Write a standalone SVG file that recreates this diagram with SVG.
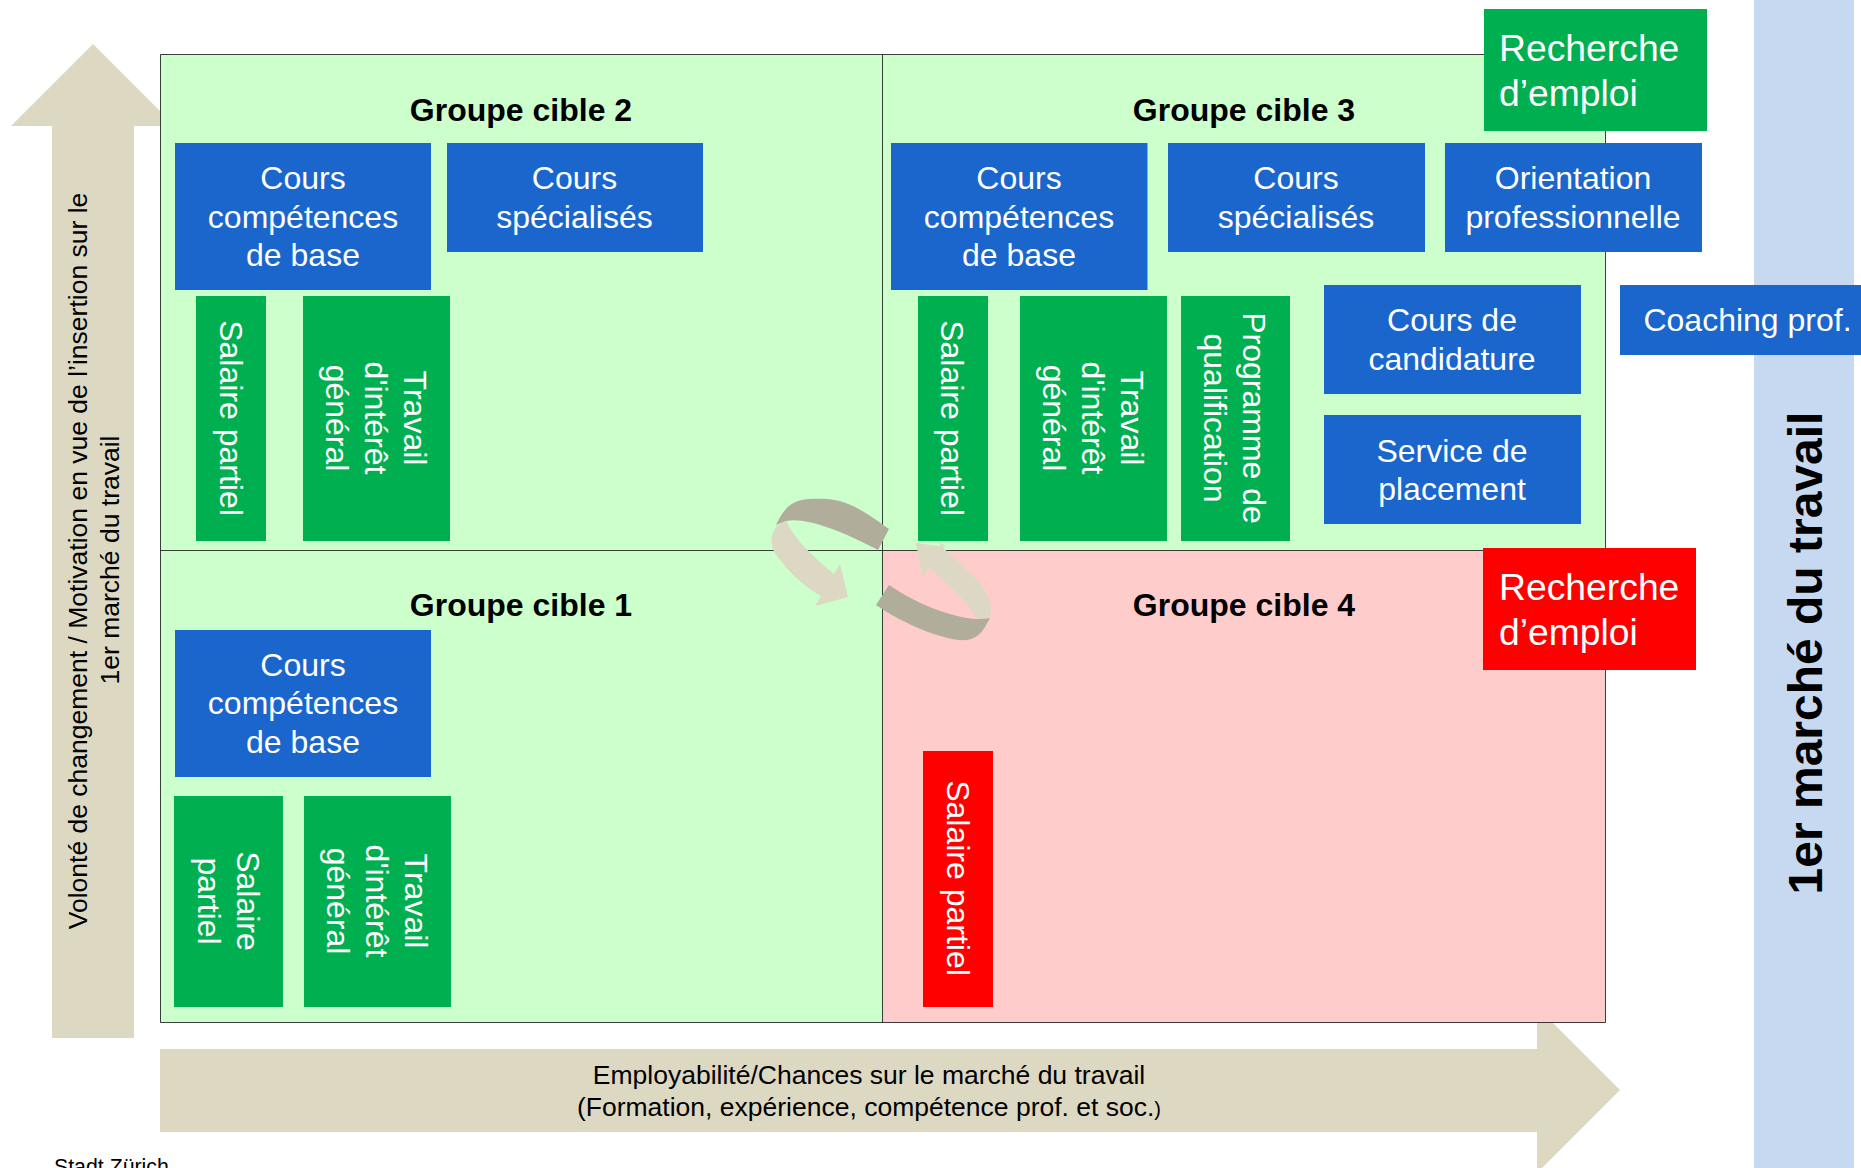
<svg xmlns="http://www.w3.org/2000/svg" width="1861" height="1168" viewBox="0 0 1861 1168">
<style>
text{font-family:"Liberation Sans",Arial,sans-serif}
.b{fill:#1a66cc}.g{fill:#00b050}.r{fill:#ff0000}.s{fill:#ddd8c2}
.t{fill:#fff;font-size:32px;text-anchor:middle}
.big{fill:#fff;font-size:37.300px}
.h{fill:#000;font-size:32px;font-weight:bold;text-anchor:middle}
.a{fill:#000;font-size:26.500px;text-anchor:middle}
.q{fill:none;stroke:#000;stroke-opacity:.75;stroke-width:1}
</style>
<rect width="1861" height="1168" fill="#fff"/>
<rect id="bar" x="1754" y="0" width="100" height="1168" fill="#c6d9f1"/>
<g id="axis-y">
<path class="s" d="M93 44L175 126H134V1038H52V126H11Z"/>
<text class="a" transform="translate(87,561) rotate(-90)">Volonté de changement / Motivation en vue de l’insertion sur le</text>
<text class="a" transform="translate(119,560) rotate(-90)">1er marché du travail</text>
</g>
<g id="axis-x">
<path class="s" d="M160 1049H1537V1007L1620 1090L1537 1173V1132H160Z"/>
<text class="a" x="869" y="1084">Employabilité/Chances sur le marché du travail</text>
<text class="a" x="869" y="1116">(Formation, expérience, compétence prof. et soc.<tspan font-size="20">)</tspan></text>
</g>
<g id="quadrants">
<rect x="160" y="54.500" width="723" height="496" fill="#ccffcc"/>
<rect x="883" y="54.500" width="722.500" height="496" fill="#ccffcc"/>
<rect x="160" y="550.500" width="723" height="472" fill="#ccffcc"/>
<rect x="883" y="550.500" width="722.500" height="472" fill="#ffcccc"/>
<path class="q" d="M160.500 54.500H1605.500V1022.500H160.500ZM882.500 54.500V1022.500M160.500 550.500H1605.500"/>
</g>
<g id="heads">
<text class="h" x="521" y="121">Groupe cible 2</text>
<text class="h" x="1244" y="121">Groupe cible 3</text>
<text class="h" x="521" y="616">Groupe cible 1</text>
<text class="h" x="1244" y="616">Groupe cible 4</text>
</g>
<g id="n-ccb2"><rect class="b" x="175" y="143" width="256" height="147"/><text class="t"><tspan x="303" y="189">Cours</tspan><tspan x="303" y="228">compétences</tspan><tspan x="303" y="266">de base</tspan></text></g>
<g id="n-spec2"><rect class="b" x="447" y="143" width="256" height="109"/><text class="t"><tspan x="574.500" y="189">Cours</tspan><tspan x="574.500" y="228">spécialisés</tspan></text></g>
<g id="n-ccb3"><rect class="b" x="891" y="143" width="256.500" height="147"/><text class="t"><tspan x="1019" y="189">Cours</tspan><tspan x="1019" y="228">compétences</tspan><tspan x="1019" y="266">de base</tspan></text></g>
<g id="n-spec3"><rect class="b" x="1168" y="143" width="257" height="109"/><text class="t"><tspan x="1296" y="189">Cours</tspan><tspan x="1296" y="228">spécialisés</tspan></text></g>
<g id="n-orient"><rect class="b" x="1445" y="143" width="257" height="109"/><text class="t"><tspan x="1573" y="189">Orientation</tspan><tspan x="1573" y="228">professionnelle</tspan></text></g>
<g id="n-cand"><rect class="b" x="1324" y="285" width="257" height="109"/><text class="t"><tspan x="1452" y="331">Cours de</tspan><tspan x="1452" y="370">candidature</tspan></text></g>
<g id="n-coach"><rect class="b" x="1620" y="285" width="241" height="70"/><text class="t" x="1747.500" y="331">Coaching prof.</text></g>
<g id="n-place"><rect class="b" x="1324" y="415" width="257" height="109"/><text class="t"><tspan x="1452" y="462">Service de</tspan><tspan x="1452" y="500">placement</tspan></text></g>
<g id="n-rech-g"><rect class="g" x="1484" y="9" width="223" height="122"/><text class="big"><tspan x="1499" y="61">Recherche</tspan><tspan x="1499" y="106">d’emploi</tspan></text></g>
<g id="n-rech-r"><rect class="r" x="1483" y="548" width="213" height="122"/><text class="big"><tspan x="1499" y="600">Recherche</tspan><tspan x="1499" y="645">d’emploi</tspan></text></g>
<g id="n-sal2"><rect class="g" x="196" y="296" width="70" height="245"/><text class="t" transform="translate(220,418) rotate(90)">Salaire partiel</text></g>
<g id="n-tig2"><rect class="g" x="303" y="296" width="147" height="245"/><text class="t" transform="translate(376,418) rotate(90)"><tspan x="0" y="-28">Travail</tspan><tspan x="0" y="11">d'intérêt</tspan><tspan x="0" y="50">général</tspan></text></g>
<g id="n-sal3"><rect class="g" x="918" y="296" width="70" height="245"/><text class="t" transform="translate(941,418) rotate(90)">Salaire partiel</text></g>
<g id="n-tig3"><rect class="g" x="1020" y="296" width="147" height="245"/><text class="t" transform="translate(1093,418) rotate(90)"><tspan x="0" y="-28">Travail</tspan><tspan x="0" y="11">d'intérêt</tspan><tspan x="0" y="50">général</tspan></text></g>
<g id="n-prog"><rect class="g" x="1181" y="296" width="109" height="245"/><text class="t" transform="translate(1235,418) rotate(90)"><tspan x="0" y="-8">Programme de</tspan><tspan x="0" y="31">qualification</tspan></text></g>
<g id="n-ccb1"><rect class="b" x="175" y="630" width="256" height="147"/><text class="t"><tspan x="303" y="676">Cours</tspan><tspan x="303" y="714">compétences</tspan><tspan x="303" y="753">de base</tspan></text></g>
<g id="n-sal1"><rect class="g" x="174" y="796" width="109" height="211"/><text class="t" transform="translate(228,901) rotate(90)"><tspan x="0" y="-9">Salaire</tspan><tspan x="0" y="30">partiel</tspan></text></g>
<g id="n-tig1"><rect class="g" x="304" y="796" width="147" height="211"/><text class="t" transform="translate(377,901) rotate(90)"><tspan x="0" y="-28">Travail</tspan><tspan x="0" y="11">d'intérêt</tspan><tspan x="0" y="50">général</tspan></text></g>
<g id="n-sal4"><rect class="r" x="923" y="751" width="70" height="256"/><text class="t" transform="translate(947,878) rotate(90)">Salaire partiel</text></g>
<g id="connectors">
<path fill="#b1ad9b" d="M776 525C786 503 796 500 810 499C840 498 850 501 889 529L878 550C840 530 805 517 786 521Z"/>
<path fill="#ddd8c4" d="M778 525C768 535 771 550 778 557C790 575 810 590 821 596L815 606L848 597L840 564L834 574C815 558 795 540 786 521Z"/>
<path fill="#b1ad9b" d="M990 618C983 631 979 638 967 640C947 642 905 625 876 605L889 585C915 603 952 618 977 619Z"/>
<path fill="#ddd8c4" d="M990 618C994 605 987 590 977 580C962 565 947 552 937 541L947 547L916 543L922 577L930 568C947 585 967 600 977 619Z"/>
</g>
<text id="src" x="54" y="1174" font-size="21.300" fill="#000">Stadt Zürich</text>
<g id="axis-label"><text transform="translate(1822,653) rotate(-90)" font-size="48" font-weight="bold" text-anchor="middle" fill="#000">1er marché du travail</text></g>
</svg>
